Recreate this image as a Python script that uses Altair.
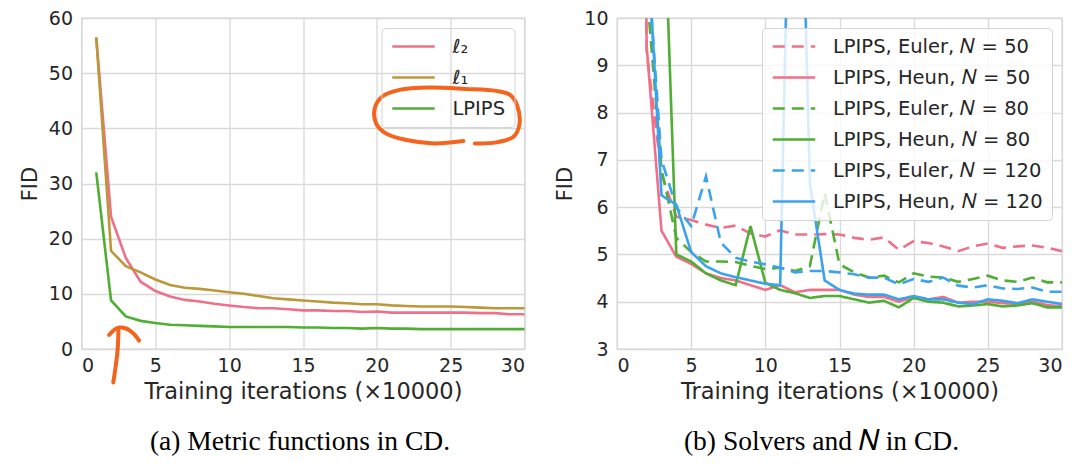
import altair as alt
import pandas as pd

# ---------------- data: panel (a) ----------------
iters = list(range(1, 31))
series_a = ["ℓ₂", "ℓ₁", "LPIPS"]
colors_a = ["#f0708a", "#bb9838", "#4fae33"]
fid_l2 = [56.5, 24.0, 16.5, 12.2, 10.5, 9.5, 8.9, 8.6, 8.2, 7.9, 7.6, 7.4, 7.4, 7.2, 7.0,
          7.0, 6.9, 6.9, 6.7, 6.8, 6.6, 6.6, 6.6, 6.6, 6.6, 6.6, 6.5, 6.5, 6.3, 6.3]
fid_l1 = [56.5, 17.8, 15.0, 13.9, 12.6, 11.6, 11.1, 10.9, 10.6, 10.3, 10.0, 9.6, 9.2, 9.0, 8.8,
          8.6, 8.4, 8.3, 8.1, 8.1, 7.9, 7.8, 7.7, 7.7, 7.7, 7.6, 7.5, 7.4, 7.4, 7.4]
fid_lpips = [32.0, 8.8, 5.9, 5.1, 4.7, 4.4, 4.3, 4.2, 4.1, 4.0, 4.0, 4.0, 4.0, 4.0, 3.9,
             3.9, 3.8, 3.8, 3.7, 3.8, 3.7, 3.7, 3.6, 3.6, 3.6, 3.6, 3.6, 3.6, 3.6, 3.6]

# hand-drawn orange annotation strokes (data units of panel a)
ann_seg = ["loop"] * 17 + ["hook"] * 5 + ["stem"] * 4
ann_x = [26.64, 28.08, 29.25, 29.65, 29.49, 29.02, 28.08, 25.98, 23.64, 21.54, 20.37, 19.86,
         19.95, 20.61, 22.01, 23.88, 25.86,
         1.87, 2.38, 2.97, 3.55, 3.90,
         2.50, 2.45, 2.29, 2.15]
ann_y = [37.27, 37.45, 38.48, 40.6, 44.24, 46.06, 46.79, 47.15, 47.39, 46.97, 45.76, 43.64,
         40.91, 39.09, 37.88, 37.27, 37.7,
         2.55, 3.76, 3.76, 2.73, 1.52,
         3.33, 0.0, -3.64, -6.06]

# ---------------- data: panel (b) ----------------
series_b = ["LPIPS, Euler, 𝑁 = 50", "LPIPS, Heun, 𝑁 = 50",
            "LPIPS, Euler, 𝑁 = 80", "LPIPS, Heun, 𝑁 = 80",
            "LPIPS, Euler, 𝑁 = 120", "LPIPS, Heun, 𝑁 = 120"]
colors_b = ["#f0708a", "#f0708a", "#4fae33", "#4fae33", "#3ba3ec", "#3ba3ec"]
dashes_b = [[12, 7], [1, 0], [12, 7], [1, 0], [12, 7], [1, 0]]
euler50 = [28, 9.3, 6.7, 5.8, 5.73, 5.63, 5.56, 5.61, 5.44, 5.38, 5.51, 5.42, 5.42, 5.43, 5.42,
           5.35, 5.31, 5.36, 5.1, 5.28, 5.24, 5.17, 5.07, 5.17, 5.23, 5.14, 5.17, 5.19, 5.14, 5.07]
heun50 = [40, 9.4, 5.5, 4.95, 4.8, 4.6, 4.5, 4.45, 4.35, 4.25, 4.35, 4.2, 4.25, 4.25, 4.25,
          4.15, 4.1, 4.1, 4.0, 4.1, 4.05, 4.1, 3.98, 4.0, 4.0, 3.97, 3.95, 4.0, 3.93, 3.9]
euler80 = [30, 10.6, 6.8, 5.35, 5.05, 4.85, 4.85, 4.84, 4.76, 4.69, 4.72, 4.65, 4.75, 6.3, 4.79,
           4.62, 4.51, 4.55, 4.41, 4.6, 4.53, 4.51, 4.42, 4.48, 4.55, 4.45, 4.42, 4.51, 4.41, 4.41]
heun80 = [40, 22, 14, 5.0, 4.85, 4.6, 4.45, 4.35, 5.6, 4.4, 4.25, 4.18, 4.08, 4.12, 4.12,
          4.05, 3.98, 4.02, 3.88, 4.08, 4.0, 3.98, 3.9, 3.92, 3.95, 3.9, 3.92, 3.97, 3.88, 3.88]
euler120 = [35, 11.5, 7.0, 6.0, 5.6, 6.65, 5.25, 4.93, 4.85, 4.79, 4.72, 4.62, 4.65, 4.65, 4.62,
            4.58, 4.51, 4.51, 4.37, 4.48, 4.42, 4.51, 4.34, 4.3, 4.35, 4.28, 4.27, 4.3, 4.21, 4.21]
heun120 = [40, 12, 6.25, 6.05, 5.05, 4.75, 4.6, 4.52, 4.45, 4.38, 4.35, 19, 6.5, 4.45, 4.25,
           4.17, 4.15, 4.15, 4.05, 4.12, 4.05, 4.05, 3.98, 3.95, 4.05, 4.02, 3.97, 4.05, 4.0, 3.95]

x_ticks = [0, 5, 10, 15, 20, 25, 30]
y_ticks_a = [0, 10, 20, 30, 40, 50, 60]
y_ticks_b = [3, 4, 5, 6, 7, 8, 9, 10]

caption_a = "(a) Metric functions in CD."
caption_b = "(b) Solvers and 𝑁 in CD."
x_title = "Training iterations (×10000)"

# ---------------- tables ----------------
rows_a = []
for name, vals in zip(series_a, [fid_l2, fid_l1, fid_lpips]):
    for i, (x, v) in enumerate(zip(iters, vals)):
        rows_a.append({"series": name, "x": x, "y": v, "o": i})
df_a = pd.DataFrame(rows_a)

df_ann = pd.DataFrame({"seg": ann_seg, "x": ann_x, "y": ann_y, "o": list(range(len(ann_x)))})

rows_b = []
for name, vals in zip(series_b, [euler50, heun50, euler80, heun80, euler120, heun120]):
    for i, (x, v) in enumerate(zip(iters, vals)):
        rows_b.append({"series": name, "x": x, "y": v, "o": i})
df_b = pd.DataFrame(rows_b)

W, H = 443, 331
FONT = "DejaVu Sans"
TXT = "#262626"

x_enc = alt.X("x:Q", title=x_title,
              scale=alt.Scale(domain=[0, 30], nice=False, zero=False),
              axis=alt.Axis(values=x_ticks, format="d"))

line_a = alt.Chart(df_a).mark_line(strokeWidth=2.6).encode(
    x=x_enc,
    y=alt.Y("y:Q", title="FID", scale=alt.Scale(domain=[0, 60], nice=False),
            axis=alt.Axis(values=y_ticks_a, format="d")),
    color=alt.Color("series:N", sort=series_a,
                    scale=alt.Scale(domain=series_a, range=colors_a),
                    legend=alt.Legend(title=None, fillColor="rgba(255,255,255,0)")),
    order="o:Q",
)

ann = alt.Chart(df_ann).mark_line(color="#f4641c", strokeWidth=4, clip=False,
                                  strokeCap="round", strokeJoin="round",
                                  interpolate="catmull-rom").encode(
    x="x:Q", y="y:Q", detail="seg:N", order="o:Q")

cap_style = dict(orient="bottom", font="Liberation Serif", fontSize=27.5,
                 fontWeight="normal", color="black", offset=25, anchor="middle",
                 frame="group")

panel_a = alt.layer(line_a, ann).properties(
    width=W, height=H,
    title=alt.TitleParams(caption_a, dx=-3, **cap_style),
)

panel_b = alt.Chart(df_b).mark_line(strokeWidth=2.6, clip=True).encode(
    x=x_enc,
    y=alt.Y("y:Q", title="FID", scale=alt.Scale(domain=[3, 10], nice=False, zero=False),
            axis=alt.Axis(values=y_ticks_b, format="d")),
    color=alt.Color("series:N", sort=series_b,
                    scale=alt.Scale(domain=series_b, range=colors_b),
                    legend=alt.Legend(title=None)),
    strokeDash=alt.StrokeDash("series:N", sort=series_b,
                              scale=alt.Scale(domain=series_b, range=dashes_b),
                              legend=alt.Legend(title=None)),
    order="o:Q",
).properties(
    width=445, height=H,
    title=alt.TitleParams(caption_b, dx=-18, **cap_style),
)

chart = alt.hconcat(panel_a, panel_b, spacing=23.5).resolve_scale(
    color="independent", strokeDash="independent", x="independent", y="independent"
).properties(
    padding={"left": 10.5, "top": 0, "right": 5, "bottom": 5},
    background="white",
).configure_view(
    stroke="#d6d6d6", strokeWidth=1.3,
).configure_axis(
    grid=True, gridColor="#d9d9d9", gridWidth=1.3, domain=False, ticks=False, tickSize=0,
    labelFont=FONT, labelFontSize=19, labelColor=TXT,
    titleFont=FONT, titleFontSize=21, titleColor=TXT, titleFontWeight="normal",
).configure_axisX(
    labelPadding=7, titlePadding=5, titleFontSize=22.5,
).configure_axisY(
    labelPadding=9, titlePadding=8, titleFontSize=21,
).configure_legend(
    orient="top-right", offset=10, padding=9,
    fillColor="rgba(255,255,255,0.8)", strokeColor="#d4d4d4", cornerRadius=4,
    labelFont=FONT, labelFontSize=19.5, labelColor=TXT, labelOffset=16, labelLimit=0,
    symbolType="stroke", symbolStrokeWidth=2.6, symbolSize=1800,
    clipHeight=19, rowPadding=11,
)

chart.save("out.html", embed_options={"renderer": "svg", "actions": False})
